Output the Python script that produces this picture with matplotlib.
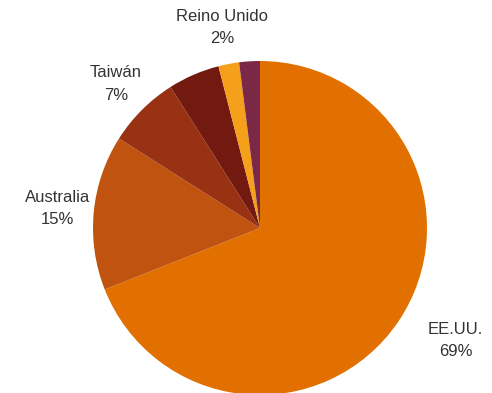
import numpy as np
import matplotlib.pyplot as plt

plt.rcParams["font.family"] = ["Liberation Sans", "DejaVu Sans"]

# slices, clockwise from 12 o'clock
countries = ["EE.UU.", "Australia", "Taiwán", "", "Reino Unido", ""]
shares = [69, 15, 7, 5, 2, 2]
colors = ["#E17000", "#C0530F", "#983212", "#731A10", "#F5A01B", "#7B2746"]
# label placement: distance from the centre (pie radii) and turn from mid-angle (deg)
label_dist = [1.35, 1.22, 1.22, 1.22, 1.22, 1.22]
label_turn = [4.3, 0, 0, 0, 0, 0]

W, H, DPI = 492, 393, 100
fig = plt.figure(figsize=(W / DPI, H / DPI), dpi=DPI)
ax = fig.add_axes([0, 0, 1, 1])

wedges, _ = ax.pie(
    shares,
    colors=colors,
    startangle=90,
    counterclock=False,
    radius=1.0,
    wedgeprops={"linewidth": 0},
)

for wedge, name, value, dist, turn in zip(wedges, countries, shares, label_dist, label_turn):
    if not name:
        continue
    mid = np.deg2rad((wedge.theta1 + wedge.theta2) / 2 + turn)
    ax.text(
        dist * np.cos(mid),
        dist * np.sin(mid),
        f"{name}\n{value}%",
        ha="center",
        va="center",
        fontsize=12,
        color="#333333",
        linespacing=1.6,
    )

# pie of radius 1 -> 167 px, centre at (260, 228) px from the top-left
px = 167.0
cx, cy = 260.0, 228.0
ax.set_xlim(-cx / px, (W - cx) / px)
ax.set_ylim(-(H - cy) / px, cy / px)
ax.set_aspect("auto")
ax.axis("off")

fig.savefig("out.png", dpi=DPI)
